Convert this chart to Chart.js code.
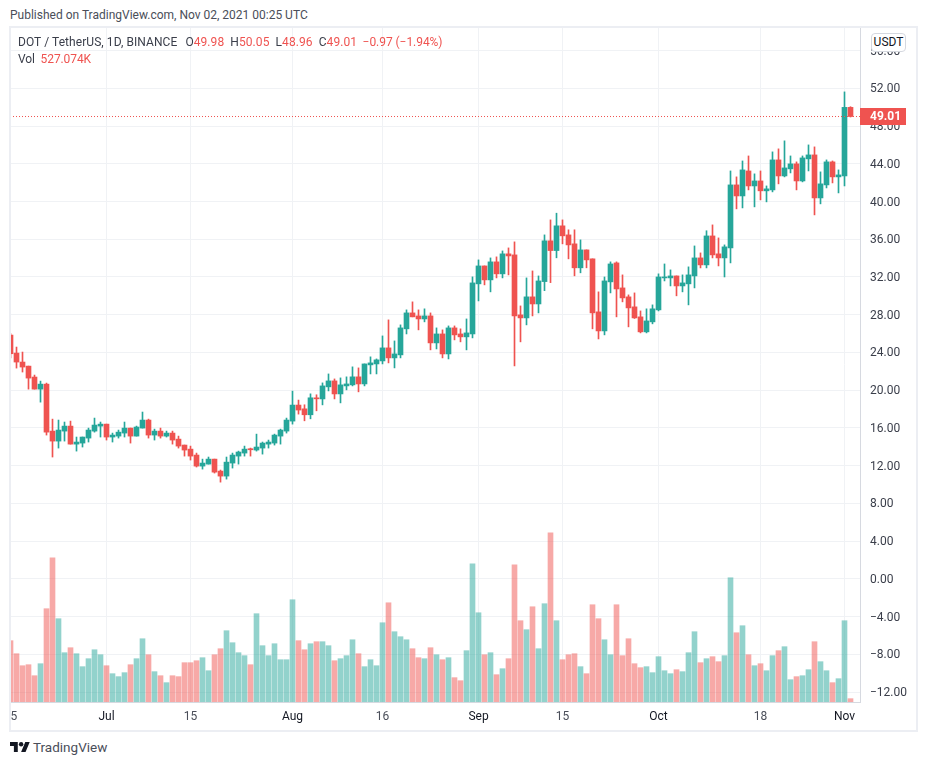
<!DOCTYPE html>
<html>
<head>
<meta charset="utf-8">
<title>DOT / TetherUS</title>
<script src="https://cdn.jsdelivr.net/npm/chart.js@4/dist/chart.umd.min.js"></script>
<style>
html,body{margin:0;padding:0;background:#fff;}
body{width:926px;height:765px;position:relative;overflow:hidden;font-family:Roboto,sans-serif;color:#131722;}
#published{position:absolute;left:10px;top:7px;font-size:12px;line-height:16px;color:#4a4e59;white-space:nowrap;}
#frame{position:absolute;left:10px;top:27px;width:906px;height:703px;overflow:hidden;}
#frame canvas{position:absolute;left:-10px;top:-27px;}
#border{position:absolute;left:9px;top:26px;width:905px;height:702px;border:2px solid #eceef3;pointer-events:none;}
.legend{position:absolute;left:18px;font-size:12px;line-height:16px;white-space:pre;color:#3a3e4a;letter-spacing:0.07px;}
.legend span{color:#ef5350;}
#unit{position:absolute;left:871px;top:33px;width:33px;height:17px;line-height:17px;border:1px solid #d5d8df;border-radius:4px;background:#fff;text-align:center;font-size:12px;color:#131722;}
#brand{position:absolute;left:10px;top:739px;height:16px;}
#brand svg{position:absolute;left:0;top:3px;}
#brand div{position:absolute;left:23px;top:0;font-size:13.5px;line-height:16px;color:#4a4e59;white-space:nowrap;}
</style>
</head>
<body>
<div id="published">Published on TradingView.com, Nov 02, 2021 00:25 UTC</div>
<div id="frame"><canvas id="chart" width="926" height="765" style="width:926px;height:765px"></canvas></div>
<div id="border"></div>
<div class="legend" style="top:34px">DOT / TetherUS, 1D, BINANCE<i style="display:inline-block;width:8px"></i>O<span>49.98</span>  H<span>50.05</span>  L<span>48.96</span>  C<span>49.01</span><i style="display:inline-block;width:5.5px"></i><span style="letter-spacing:-0.05px">−0.97 (−1.94%)</span></div>
<div class="legend" style="top:51px;letter-spacing:-0.1px">Vol  <span>527.074K</span></div>
<div id="unit">USDT</div>
<div id="brand">
<svg width="20" height="10" viewBox="0 4 36 18"><path fill="#131722" d="M14 22H7V11H0V4h14v18zM28 22h-8l7.5-18h8L28 22z"/><circle fill="#131722" cx="20" cy="8" r="4"/></svg>
<div>TradingView</div>
</div>
<script>
// daily candles from Jun 15 2021 to Nov 02 2021
var opens = [25.84,23.93,22.98,22.55,21.39,20.11,20.64,15.66,14.60,15.66,16.19,14.28,14.39,14.92,15.66,16.19,16.40,15.03,15.13,15.45,15.98,15.13,15.98,16.83,15.24,15.66,15.13,15.45,14.81,14.18,13.75,13.12,11.95,12.16,12.69,11.42,10.89,12.27,13.01,13.33,13.79,13.65,13.86,14.28,14.39,15.13,15.66,16.72,18.42,18.02,17.39,19.17,19.07,20.35,20.98,19.60,20.45,20.56,21.41,20.66,22.68,22.78,23.10,24.48,23.42,23.74,26.50,28.19,27.87,27.55,27.87,25.01,25.96,23.84,26.60,25.96,25.65,25.96,31.27,33.17,31.69,33.60,32.33,34.45,34.34,27.98,27.66,29.89,29.14,31.51,35.83,34.80,37.42,36.46,35.51,32.97,34.87,33.92,28.30,26.28,31.48,33.49,30.84,29.89,28.83,27.77,26.18,27.24,28.51,31.90,31.90,32.11,31.05,31.27,32.11,34.02,33.28,36.35,34.45,34.02,35.08,41.76,40.59,43.24,41.65,42.18,41.13,41.23,44.41,42.71,43.46,43.99,42.18,44.52,44.94,40.38,41.76,44.20,42.61,42.71,49.98];
var highs = [26.01,24.57,24.04,22.55,21.60,20.96,20.75,16.93,16.83,16.62,16.72,15.03,15.03,15.98,17.04,16.62,16.40,15.45,15.77,16.62,15.98,16.19,17.68,16.93,15.87,15.98,15.66,15.66,15.13,14.18,14.07,13.33,12.69,12.91,12.69,11.53,12.91,13.33,13.54,14.07,13.86,15.34,14.50,14.71,15.34,15.87,17.04,19.90,18.95,18.45,19.61,19.51,20.77,21.72,21.19,21.30,21.41,22.47,22.36,22.78,23.53,23.31,25.75,27.45,25.22,26.92,28.51,29.36,28.51,28.62,28.19,26.60,26.39,26.81,26.81,26.50,27.55,32.01,33.81,33.17,34.02,34.13,34.76,35.08,35.72,28.93,31.90,32.64,32.11,36.46,38.05,38.76,38.05,37.00,37.00,35.93,34.87,33.92,30.42,32.00,33.60,33.60,32.22,30.10,30.31,28.40,28.62,29.04,32.33,33.38,32.75,32.11,32.22,33.07,35.29,34.55,36.90,37.52,36.14,35.40,43.24,42.61,44.30,44.83,42.93,43.24,41.65,45.26,45.58,46.43,44.83,44.20,44.83,46.00,45.79,43.14,44.41,44.30,43.35,51.62,50.05];
var lows = [23.43,22.34,21.92,20.11,20.11,18.73,15.24,12.91,13.86,14.60,14.28,13.54,13.97,14.50,15.55,15.03,14.71,14.50,14.92,15.03,14.39,15.13,15.98,14.92,14.71,14.92,15.03,14.28,13.86,13.01,12.59,11.85,11.63,12.16,11.21,10.25,10.57,11.74,12.16,13.01,13.01,13.54,13.22,13.86,14.18,14.28,15.45,16.40,17.46,16.75,16.96,17.81,18.44,19.92,19.07,18.65,20.03,20.45,19.82,20.45,21.72,21.72,22.78,22.89,22.36,23.42,25.96,27.77,26.39,27.24,24.27,24.37,23.42,23.31,25.33,25.12,24.27,25.54,29.46,31.16,30.42,31.90,31.90,32.22,22.57,25.12,26.92,27.87,28.19,30.55,31.40,34.03,35.51,33.92,32.12,32.44,32.97,26.50,25.43,25.86,30.31,27.77,29.36,26.71,27.60,26.07,26.07,27.03,28.40,31.58,31.05,30.00,30.42,29.04,30.84,32.96,32.96,34.02,33.17,32.00,33.49,39.22,39.32,41.23,39.43,40.17,39.96,41.02,41.87,42.61,43.03,41.23,42.08,43.24,38.58,39.75,41.44,41.97,40.91,41.65,48.96];
var closes = [23.86,22.98,22.45,21.28,20.11,20.64,15.55,14.60,15.77,16.19,14.28,14.50,15.03,15.77,16.30,16.40,15.03,15.24,15.55,15.98,15.13,16.09,16.83,15.24,15.66,15.13,15.45,14.71,14.07,13.65,13.01,11.95,12.27,12.69,11.31,10.89,12.37,13.12,13.44,13.75,13.68,13.97,14.39,14.50,15.24,15.77,16.83,18.42,17.89,17.39,19.19,19.08,20.45,20.98,19.60,20.56,20.66,21.41,20.66,22.78,22.89,23.21,24.48,23.42,23.84,26.60,28.19,27.77,27.55,27.87,25.01,25.96,23.84,26.60,25.86,25.65,26.07,31.37,33.17,31.69,33.60,32.33,34.45,34.23,27.87,27.66,29.89,29.14,31.58,35.83,34.80,37.42,36.36,35.40,32.97,34.87,33.81,28.19,26.28,31.58,33.38,30.73,29.78,28.72,27.66,26.18,27.34,28.62,32.00,32.00,32.11,31.05,31.37,32.22,34.02,33.28,36.35,34.34,34.02,35.19,41.76,40.59,43.35,41.65,42.18,41.13,41.34,44.41,42.71,43.56,43.99,42.18,44.62,44.94,40.38,41.87,44.20,42.61,42.82,49.98,49.01];
// volume in millions of DOT
var volumes = [9.70,7.64,5.74,5.90,4.16,6.06,14.76,22.82,13.18,7.80,8.59,7.64,5.59,6.85,8.27,7.48,5.74,4.48,4.01,4.64,5.90,6.85,10.01,7.48,4.80,4.16,3.06,4.16,4.01,6.22,6.22,6.53,7.01,4.95,7.48,8.43,11.28,9.38,7.80,7.33,5.90,13.97,8.91,7.33,9.22,6.69,6.69,16.18,9.70,8.27,9.22,9.54,9.54,8.91,6.53,6.85,7.33,9.85,7.64,5.59,6.69,5.74,12.54,15.70,11.12,10.33,9.85,8.43,7.01,6.85,8.59,7.48,6.69,7.01,3.85,3.37,8.12,21.87,14.12,7.48,7.80,4.32,5.27,6.85,21.71,12.86,11.44,15.07,8.43,15.55,26.77,12.86,6.69,7.48,7.64,5.59,4.48,15.39,13.18,9.85,7.48,15.39,7.33,10.01,6.06,5.43,5.59,4.64,7.17,4.95,4.48,5.11,4.80,7.80,11.12,6.22,6.85,7.17,6.38,7.33,19.66,10.96,12.07,7.48,5.74,6.06,4.95,7.33,8.12,8.75,3.53,4.01,4.16,5.11,9.54,6.38,4.95,3.06,3.69,12.86,0.527];
var tickIdx = [0,16,30,47,62,78,92,108,125,139];
var tickLabels = ['15','Jul','15','Aug','16','Sep','15','Oct','18','Nov'];
var priceTicks = [-12,-8,-4,0,4,8,12,16,20,24,28,32,36,40,44,48,52,56];
var lastPrice = 49.01;

var UP = '#26a69a', DOWN = '#ef5350';
var UP_VOL = 'rgba(38,166,154,0.5)', DOWN_VOL = 'rgba(239,83,80,0.5)';
var GRID = '#f0f2f5';
var FONT = 'Roboto';

function colorsFor(up, down) {
    return closes.map(function (c, i) { return c >= opens[i] ? up : down; });
}

function floating(a, b) {
    return a.map(function (v, i) { return {x: i, y: [v, b[i]]}; });
}

// draws the red 49.01 tag over the price axis
var priceTag = {
    id: 'priceTag',
    afterDraw: function (chart) {
        var ctx = chart.ctx;
        var y = chart.scales.y.getPixelForValue(lastPrice);
        var x = chart.chartArea.right;
        ctx.save();
        ctx.fillStyle = DOWN;
        ctx.fillRect(x, Math.round(y) - 9, 46, 17);
        ctx.fillStyle = '#fff';
        ctx.font = 'bold 12px ' + FONT;
        ctx.textBaseline = 'middle';
        ctx.fillText(lastPrice.toFixed(2), x + 10, Math.round(y));
        ctx.restore();
    }
};

new Chart(document.getElementById('chart'), {
    data: {
        datasets: [
            {type: 'line', order: 1, data: [{x: -0.0833, y: lastPrice}, {x: 141.583, y: lastPrice}],
             borderColor: DOWN, borderWidth: 1, borderDash: [1, 2], pointRadius: 0, yAxisID: 'y'},
            {type: 'bar', order: 2, data: floating(opens, closes), backgroundColor: colorsFor(UP, DOWN),
             barThickness: 5, grouped: false, minBarLength: 1, yAxisID: 'y'},
            {type: 'bar', order: 3, data: floating(lows, highs), backgroundColor: colorsFor(UP, DOWN),
             barThickness: 1, grouped: false, yAxisID: 'y'},
            {type: 'bar', order: 4, data: volumes.map(function (v, i) { return {x: i, y: v}; }),
             backgroundColor: colorsFor(UP_VOL, DOWN_VOL), barThickness: 5, grouped: false, yAxisID: 'vol'}
        ]
    },
    options: {
        responsive: false,
        animation: false,
        events: [],
        layout: {autoPadding: false, padding: {left: 10, top: 27, right: 10, bottom: 35}},
        plugins: {legend: {display: false}, tooltip: {enabled: false}},
        scales: {
            x: {
                type: 'linear', min: -0.0833, max: 141.583, offset: false,
                afterBuildTicks: function (s) { s.ticks = tickIdx.map(function (v) { return {value: v}; }); },
                // the first label hangs over the left edge, do not let it push the scale in
                afterFit: function (s) { s.height = 28; s.paddingLeft = 0; s.paddingRight = 0; },
                grid: {color: GRID, drawTicks: false, offset: false},
                border: {color: '#d6d9e0'},
                ticks: {
                    autoSkip: false, maxRotation: 0, padding: 8,
                    color: function (c) { return isNaN(tickLabels[tickIdx.indexOf(c.tick.value)]) ? '#131722' : '#4a4e59'; },
                    font: {family: FONT, size: 12},
                    callback: function (v) { return tickLabels[tickIdx.indexOf(v)]; }
                }
            },
            y: {
                position: 'right', min: -13.06, max: 58.5,
                afterBuildTicks: function (s) { s.ticks = priceTicks.map(function (v) { return {value: v}; }); },
                afterFit: function (s) { s.width = 56; },
                grid: {color: GRID, drawTicks: false},
                border: {color: '#d6d9e0'},
                ticks: {
                    autoSkip: false, crossAlign: 'near', padding: 10, labelOffset: 1, color: '#3a3e4a',
                    font: {family: FONT, size: 12},
                    callback: function (v) { return v.toFixed(2).replace('-', '\u2212'); }
                }
            },
            vol: {display: false, min: 0, max: 106.8}
        }
    },
    plugins: [priceTag]
});
</script>
</body>
</html>
